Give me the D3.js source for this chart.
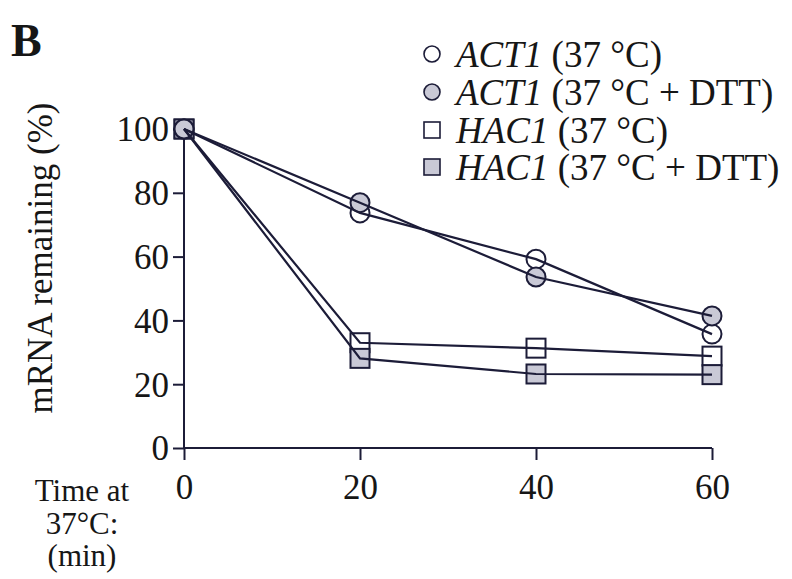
<!DOCTYPE html>
<html>
<head>
<meta charset="utf-8">
<script src="https://cdn.jsdelivr.net/npm/d3@7"></script>
<style>
  html, body { margin: 0; padding: 0; background: #fff; }
  svg { display: block; }
  text { font-family: "Liberation Serif", "Times New Roman", serif; fill: #161616; }
</style>
</head>
<body>
<svg id="chart" width="792" height="579"></svg>
<script>
// ---- data ----
const times = [0, 20, 40, 60];
const act1_37 = [100, 73.7, 59.2, 35.7];
const act1_37dtt = [100, 76.9, 53.6, 41.4];
const hac1_37 = [100, 33.0, 31.3, 28.8];
const hac1_37dtt = [100, 28.1, 23.2, 23.0];
const yTicks = [0, 20, 40, 60, 80, 100];
const xTicks = [0, 20, 40, 60];
const seriesNames = ["ACT1", "ACT1", "HAC1", "HAC1"];
const seriesConds = ["(37 °C)", "(37 °C + DTT)", "(37 °C)", "(37 °C + DTT)"];
const xTitleLines = ["Time at", "37°C:", "(min)"];

const series = [
  { vals: act1_37, shape: "circle", fill: "#ffffff" },
  { vals: act1_37dtt, shape: "circle", fill: "#c9c9d6" },
  { vals: hac1_37, shape: "square", fill: "#ffffff" },
  { vals: hac1_37dtt, shape: "square", fill: "#c9c9d6" }
];

const ink = "#1c1c38";
const svg = d3.select("#chart");

const x = d3.scaleLinear().domain([0, 60]).range([184, 712]);
const y = d3.scaleLinear().domain([0, 100]).range([448, 129]);

// axes
const yAxis = d3.axisLeft(y).tickValues(yTicks).tickSize(11).tickPadding(4).tickFormat(d3.format("d"));
const xAxis = d3.axisBottom(x).tickValues(xTicks).tickSize(12).tickPadding(14).tickFormat(d3.format("d"));

const gy = svg.append("g").attr("transform", `translate(${x(0)},0)`).call(yAxis);
const gx = svg.append("g").attr("transform", `translate(0,${y(0)})`).call(xAxis);
[gx, gy].forEach(g => {
  g.select(".domain").attr("stroke", ink).attr("stroke-width", 2);
  g.selectAll(".tick line").attr("stroke", ink).attr("stroke-width", 2);
  g.selectAll(".tick text").style("font-family", "'Liberation Serif', serif")
    .style("font-size", "35px").attr("fill", "#161616");
});
gx.select(".domain").attr("d", `M${x(0)},0H${x(60)}`);
gy.select(".domain").attr("d", `M0,${y(0)}V${y(100)}`);
gy.selectAll(".tick text").attr("dy", "0.34em");
gx.selectAll(".tick text").attr("dy", "0.72em");

// markers
const r = 9.5, s = 19;
function drawMarker(g, shape, cx, cy, fill, rr, ss, sw) {
  if (shape === "circle") {
    g.append("circle").attr("cx", cx).attr("cy", cy).attr("r", rr)
      .attr("fill", fill).attr("stroke", ink).attr("stroke-width", sw);
  } else {
    g.append("rect").attr("x", cx - ss / 2).attr("y", cy - ss / 2).attr("width", ss).attr("height", ss)
      .attr("fill", fill).attr("stroke", ink).attr("stroke-width", sw);
  }
}
const gm = svg.append("g");
// squares first, then circles (circle sits inside square at t=0)
[2, 3, 0, 1].forEach(i => {
  const sr = series[i];
  sr.vals.forEach((v, j) => drawMarker(gm, sr.shape, x(times[j]), y(v), sr.fill, r, s, 2));
});

// lines on top
const line = d3.line().x((d, j) => x(times[j])).y(d => y(d));
series.forEach(sr => {
  svg.append("path").datum(sr.vals).attr("d", line)
    .attr("fill", "none").attr("stroke", ink).attr("stroke-width", 2.2);
});

// legend
const lg = svg.append("g");
const legY = [54, 92, 130, 167];
series.forEach((sr, i) => {
  drawMarker(lg, sr.shape, 432, legY[i], sr.fill, 8, 16, 1.6);
  const t = lg.append("text").attr("x", 456).attr("y", legY[i]).attr("dy", "0.35em")
    .style("font-size", "37px");
  t.append("tspan").style("font-style", "italic").text(seriesNames[i]);
  t.append("tspan").text(" " + seriesConds[i]);
});

// panel label
svg.append("text").attr("x", 11).attr("y", 56).style("font-size", "46px")
  .style("font-weight", "bold").text("B");

// y-axis title
svg.append("text").attr("transform", `translate(52,258) rotate(-90)`)
  .attr("text-anchor", "middle").style("font-size", "35px").text("mRNA remaining (%)");

// x-axis title (left, three separate lines)
const xtBase = [501, 534, 566];
xTitleLines.forEach((s, i) => {
  svg.append("text").attr("x", 82).attr("y", xtBase[i]).attr("text-anchor", "middle")
    .style("font-size", "31px").text(s);
});
</script>
</body>
</html>
